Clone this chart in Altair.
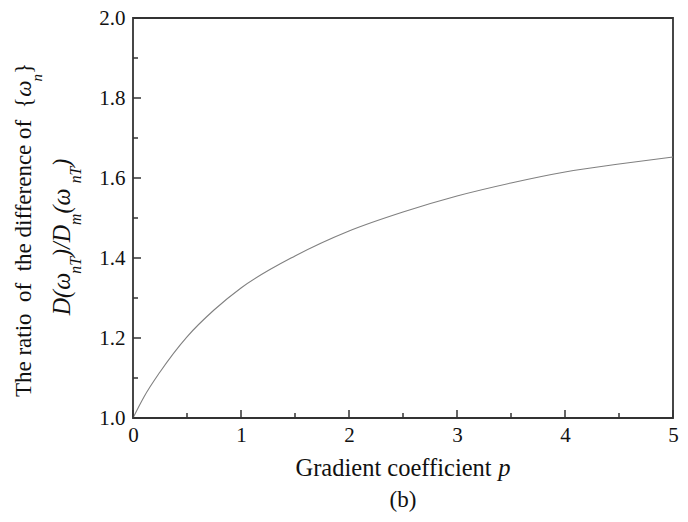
import altair as alt
import pandas as pd

# ---- data ----
p_vals = [0, 0.1, 0.25, 0.5, 0.75, 1, 1.5, 2, 2.5, 3, 3.5, 4, 4.5, 5]
ratio_vals = [1.0, 1.052, 1.115, 1.203, 1.27, 1.325, 1.405, 1.4675, 1.515, 1.555, 1.5875, 1.615, 1.635, 1.6525]

x_major = [0, 1, 2, 3, 4, 5]
x_minor = [0.5, 1.5, 2.5, 3.5, 4.5]
y_major = [1.0, 1.2, 1.4, 1.6, 1.8, 2.0]
y_minor = [1.1, 1.3, 1.5, 1.7, 1.9]

NB = "\u00a0"
ytitle_line1 = [("The ratio" + NB * 2 + "of" + NB * 2 + "the difference of" + NB * 2 + "{", False, "main"),
                ("ω", True, "main"), ("n", True, "sub"), ("}", False, "main")]
ytitle_line2 = [("D(ω", True, "main"), ("nT", True, "sub"), (")/D", True, "main"), ("m", True, "sub"),
                (NB + "(ω", True, "main"), ("nT", True, "sub"), (")", True, "main")]
xtitle = [("Gradient coefficient" + NB, False, "main"), ("p", True, "main")]
panel_label = "(b)"

# ---- layout ----
W, H = 540, 400
FONT = "Liberation Serif, Times New Roman, serif"
AX = "#333333"

REG = {'T': 611, 'h': 500, 'e': 444, ' ': 250, NB: 250, 'r': 333, 'a': 444, 't': 278, 'i': 278, 'o': 500,
       'f': 333, 'd': 500, 'n': 500, 'c': 444, '{': 480, '}': 480, 'G': 722, '(': 333, ')': 333,
       'b': 500, 'ω': 686}
ITA = {'D': 722, '(': 333, ')': 333, '/': 278, ' ': 250, NB: 250, 'n': 500, 'T': 556, 'm': 722, 'p': 500,
       'ω': 667}


def width(text, italic, size):
    tbl = ITA if italic else REG
    return sum(tbl.get(c, 500) for c in text) / 1000.0 * size


xs = alt.Scale(domain=[0, 5], nice=False, zero=False)
ys = alt.Scale(domain=[1.0, 2.0], nice=False, zero=False)

df = pd.DataFrame({"p": p_vals, "r": ratio_vals})

curve = alt.Chart(df).mark_line(color="#808080", strokeWidth=1.1, interpolate="monotone").encode(
    x=alt.X("p:Q", scale=xs, axis=alt.Axis(values=x_major, format="d", title=None, labelFont=FONT,
                                           labelFontSize=21, labelColor="#111", labelPadding=6,
                                           labelFlush=False)),
    y=alt.Y("r:Q", scale=ys, axis=alt.Axis(values=y_major, format=".1f", title=None, labelFont=FONT,
                                           labelFontSize=21, labelColor="#111", labelPadding=8,
                                           labelFlush=False)),
)


def xticks(vals, length):
    return alt.Chart(pd.DataFrame({"v": vals})).mark_rule(color=AX, strokeWidth=1.5).encode(
        x=alt.X("v:Q", scale=xs), y=alt.value(H), y2=alt.value(H - length))


def yticks(vals, length):
    return alt.Chart(pd.DataFrame({"v": vals})).mark_rule(color=AX, strokeWidth=1.5).encode(
        y=alt.Y("v:Q", scale=ys), x=alt.value(0), x2=alt.value(length))


layers = [curve, xticks(x_major, 8), xticks(x_minor, 5), yticks(y_major, 8), yticks(y_minor, 5)]

SIZES = {"main": 23, "sub": 15}
SHIFT = {"main": 0, "sub": 11}


def rotated_line(segs, base_x, center_y, scale=1.0):
    total = sum(width(t, it, SIZES[k] * scale) for t, it, k in segs)
    y0 = center_y + total / 2
    out = []
    off = 0
    for t, it, k in segs:
        out.append(alt.Chart(pd.DataFrame({"t": [t]})).mark_text(
            angle=270, align="left", baseline="alphabetic", font=FONT, fontSize=SIZES[k] * scale,
            fontStyle="italic" if it else "normal", color="#111").encode(
            text="t:N", x=alt.value(base_x + SHIFT[k]), y=alt.value(y0 - off)))
        off += width(t, it, SIZES[k] * scale)
    return out


def horiz_line(segs, center_x, base_y, size):
    total = sum(width(t, it, size) for t, it, k in segs)
    x0 = center_x - total / 2
    out = []
    off = 0
    for t, it, k in segs:
        out.append(alt.Chart(pd.DataFrame({"t": [t]})).mark_text(
            align="left", baseline="alphabetic", font=FONT, fontSize=size,
            fontStyle="italic" if it else "normal", color="#111").encode(
            text="t:N", x=alt.value(x0 + off), y=alt.value(base_y)))
        off += width(t, it, size)
    return out


layers += rotated_line(ytitle_line1, -102, 212)
layers += rotated_line(ytitle_line2, -63, 219, scale=1.05)
layers += horiz_line(xtitle, W / 2, 458, 24.5)
layers.append(alt.Chart(pd.DataFrame({"t": [panel_label]})).mark_text(
    align="center", baseline="alphabetic", font=FONT, fontSize=23, color="#111").encode(
    text="t:N", x=alt.value(W / 2), y=alt.value(489)))

chart = alt.layer(*layers).properties(
    width=W, height=H, autosize="none",
    padding={"left": 133, "top": 18, "right": 15, "bottom": 104},
).configure_view(stroke=AX, strokeWidth=1.8).configure_axis(
    domain=False, ticks=False, grid=False)

chart.save("out.html", embed_options={"renderer": "svg", "actions": False})
